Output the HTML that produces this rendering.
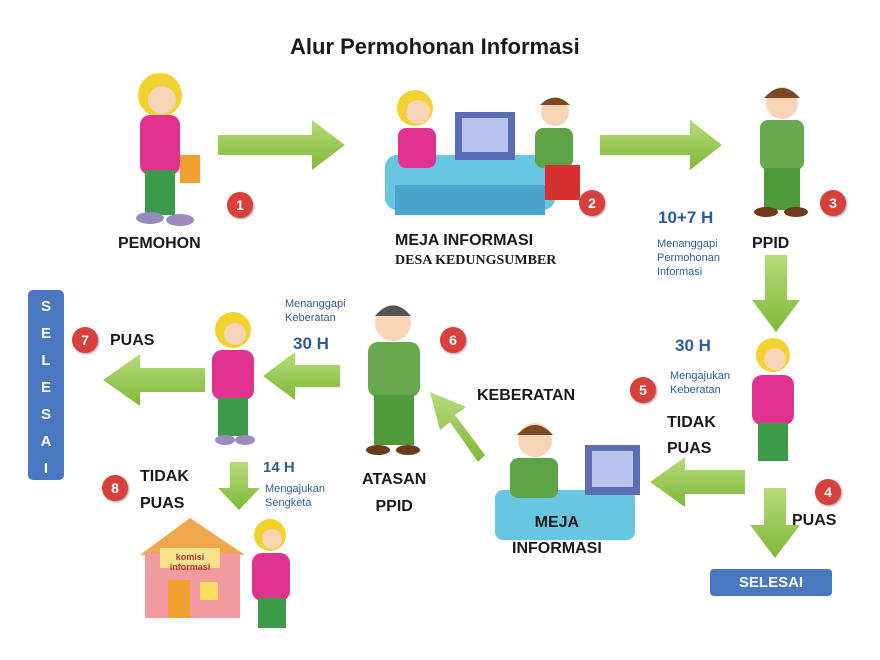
<!DOCTYPE html>
<html><head><meta charset="utf-8"><style>
*{margin:0;padding:0;box-sizing:border-box}
body{width:880px;height:660px;background:#fff;position:relative;overflow:hidden;font-family:"Liberation Sans",sans-serif}
.a{position:absolute}
.t{position:absolute;font-weight:bold;color:#1a1a1a;font-size:16px;white-space:nowrap}
.b{position:absolute;color:#2f5b9a;font-size:11px;line-height:14px;white-space:nowrap}
.bh{position:absolute;color:#2f5b9a;font-size:17px;font-weight:bold;white-space:nowrap}
.n{position:absolute;width:26px;height:26px;border-radius:50%;background:#d8403c;color:#fff;font-size:14px;font-weight:bold;text-align:center;line-height:26px;box-shadow:1px 1px 2px #999}
.g{position:absolute;border-radius:45%}
</style></head><body>
<div class="t" style="left:290px;top:34px;font-size:22px">Alur Permohonan Informasi</div>

<svg class="a" style="left:0;top:0" width="880" height="660">
<defs><linearGradient id="gr" x1="0" y1="0" x2="0" y2="1"><stop offset="0" stop-color="#b6dc7a"/><stop offset="1" stop-color="#7fb83a"/></linearGradient></defs>
<g fill="url(#gr)">
<polygon points="218,135 312,135 312,120 345,145 312,170 312,155 218,155"/>
<polygon points="600,135 690,135 690,120 722,145 690,170 690,155 600,155"/>
<polygon points="765,255 787,255 787,300 800,300 776,332 752,300 765,300"/>
<polygon points="745,470 685,470 685,457 650,482 685,507 685,494 745,494"/>
<polygon points="764,488 786,488 786,525 800,525 775,558 750,525 764,525"/>
<polygon points="485,455 455,415 466,407 430,392 440,430 450,422 478,462"/>
<polygon points="340,365 295,365 295,352 263,376 295,400 295,387 340,387"/>
<polygon points="205,368 140,368 140,354 103,380 140,406 140,392 205,392"/>
<polygon points="230,462 248,462 248,488 260,488 239,510 218,488 230,488"/>
</g>
<!-- figures -->
<g>
<circle cx="160" cy="95" r="22" fill="#f2d22e"/><circle cx="162" cy="100" r="14" fill="#f7d4b5"/>
<rect x="140" y="115" width="40" height="60" rx="10" fill="#e0338f"/>
<rect x="145" y="170" width="30" height="45" fill="#3d9a48"/>
<rect x="180" y="155" width="20" height="28" fill="#f0a030"/>
<ellipse cx="150" cy="218" rx="14" ry="6" fill="#9a8ac0"/><ellipse cx="180" cy="220" rx="14" ry="6" fill="#9a8ac0"/>

<rect x="385" y="155" width="170" height="55" rx="12" fill="#67c6e0"/>
<rect x="395" y="185" width="150" height="30" fill="#4aa4cc"/>
<circle cx="415" cy="108" r="18" fill="#f2d22e"/><circle cx="418" cy="112" r="12" fill="#f7d4b5"/>
<rect x="398" y="128" width="38" height="40" rx="8" fill="#e0338f"/>
<rect x="455" y="112" width="60" height="48" fill="#5b6db5"/><rect x="462" y="118" width="46" height="34" fill="#b9c3ec"/>
<circle cx="555" cy="112" r="14" fill="#f7d4b5"/><path d="M540 105 Q555 90 570 105 Z" fill="#7a4a25"/>
<rect x="535" y="128" width="38" height="40" rx="8" fill="#5fa347"/>
<rect x="545" y="165" width="35" height="35" fill="#d63030"/>

<circle cx="782" cy="103" r="16" fill="#f7d4b5"/><path d="M764 98 Q782 78 800 98 Z" fill="#7a4a25"/>
<rect x="760" y="120" width="44" height="50" rx="8" fill="#6aa84f"/>
<rect x="764" y="168" width="36" height="42" fill="#4f9a3a"/>
<ellipse cx="766" cy="212" rx="12" ry="5" fill="#6b3a1a"/><ellipse cx="796" cy="212" rx="12" ry="5" fill="#6b3a1a"/>

<circle cx="233" cy="330" r="18" fill="#f2d22e"/><circle cx="235" cy="334" r="11" fill="#f7d4b5"/>
<rect x="212" y="350" width="42" height="50" rx="10" fill="#e0338f"/>
<rect x="218" y="398" width="30" height="38" fill="#3d9a48"/>
<ellipse cx="225" cy="440" rx="10" ry="5" fill="#9a8ac0"/><ellipse cx="245" cy="440" rx="10" ry="5" fill="#9a8ac0"/>

<circle cx="393" cy="323" r="18" fill="#f7d4b5"/><path d="M375 316 Q393 295 411 316 Z" fill="#555"/>
<rect x="368" y="342" width="52" height="55" rx="10" fill="#6aa84f"/>
<rect x="374" y="395" width="40" height="50" fill="#4f9a3a"/>
<ellipse cx="378" cy="450" rx="12" ry="5" fill="#6b3a1a"/><ellipse cx="408" cy="450" rx="12" ry="5" fill="#6b3a1a"/>

<rect x="495" y="490" width="140" height="50" rx="8" fill="#67c6e0"/>
<rect x="585" y="445" width="55" height="50" fill="#5b6db5"/><rect x="592" y="451" width="41" height="36" fill="#b9c3ec"/>
<circle cx="535" cy="440" r="17" fill="#f7d4b5"/><path d="M517 435 Q535 415 553 435 Z" fill="#7a4a25"/>
<rect x="510" y="458" width="48" height="40" rx="8" fill="#5fa347"/>

<circle cx="773" cy="355" r="17" fill="#f2d22e"/><circle cx="775" cy="359" r="11" fill="#f7d4b5"/>
<rect x="752" y="375" width="42" height="50" rx="10" fill="#e0338f"/>
<rect x="758" y="423" width="30" height="38" fill="#3d9a48"/>

<polygon points="140,555 190,518 245,555" fill="#f0a64a"/>
<rect x="145" y="553" width="95" height="65" fill="#f19aa0"/>
<rect x="160" y="548" width="60" height="20" fill="#f5e28a"/>
<rect x="168" y="580" width="22" height="38" fill="#f0a030"/><rect x="200" y="582" width="18" height="18" fill="#f7e060"/>
<circle cx="270" cy="535" r="16" fill="#f2d22e"/><circle cx="272" cy="539" r="10" fill="#f7d4b5"/>
<rect x="252" y="553" width="38" height="48" rx="10" fill="#e0338f"/>
<rect x="258" y="598" width="28" height="30" fill="#3d9a48"/>
</g>
</svg>
<div class="a" style="left:165px;top:552px;font-size:9px;color:#c03030;font-weight:bold;line-height:10px;text-align:center;width:50px">komisi<br>informasi</div>

<div class="n" style="left:227px;top:192px">1</div>
<div class="n" style="left:579px;top:190px">2</div>
<div class="n" style="left:820px;top:190px">3</div>
<div class="n" style="left:815px;top:479px">4</div>
<div class="n" style="left:630px;top:377px">5</div>
<div class="n" style="left:440px;top:327px">6</div>
<div class="n" style="left:72px;top:327px">7</div>
<div class="n" style="left:102px;top:475px">8</div>

<div class="t" style="left:118px;top:235px">PEMOHON</div>
<div class="t" style="left:395px;top:232px">MEJA INFORMASI</div>
<div class="t" style="left:395px;top:253px;font-family:'Liberation Serif',serif;font-size:14px">DESA KEDUNGSUMBER</div>
<div class="t" style="left:752px;top:235px">PPID</div>
<div class="bh" style="left:658px;top:208px">10+7 H</div>
<div class="b" style="left:657px;top:237px">Menanggapi<br>Permohonan<br>Informasi</div>
<div class="t" style="left:110px;top:332px">PUAS</div>
<div class="b" style="left:285px;top:297px">Menanggapi<br>Keberatan</div>
<div class="bh" style="left:293px;top:334px">30 H</div>
<div class="bh" style="left:675px;top:336px">30 H</div>
<div class="b" style="left:670px;top:369px">Mengajukan<br>Keberatan</div>
<div class="t" style="left:667px;top:410px;line-height:26px">TIDAK<br>PUAS</div>
<div class="t" style="left:477px;top:387px">KEBERATAN</div>
<div class="t" style="left:362px;top:466px;line-height:27px;text-align:center">ATASAN<br>PPID</div>
<div class="t" style="left:140px;top:463px;line-height:27px">TIDAK<br>PUAS</div>
<div class="bh" style="left:263px;top:459px;font-size:15px">14 H</div>
<div class="b" style="left:265px;top:482px">Mengajukan<br>Sengketa</div>
<div class="t" style="left:512px;top:510px;line-height:26px;text-align:center">MEJA<br>INFORMASI</div>
<div class="t" style="left:792px;top:512px">PUAS</div>
<div class="a" style="left:710px;top:569px;width:122px;height:27px;background:#4a78c0;border-radius:4px;color:#fff;font-weight:bold;font-size:15px;text-align:center;line-height:27px">SELESAI</div>
<div class="a" style="left:28px;top:290px;width:36px;height:190px;background:#4a78c0;border-radius:5px;color:#fff;font-weight:bold;font-size:15px;text-align:center;line-height:27px;padding-top:3px">S<br>E<br>L<br>E<br>S<br>A<br>I</div>
</body></html>
